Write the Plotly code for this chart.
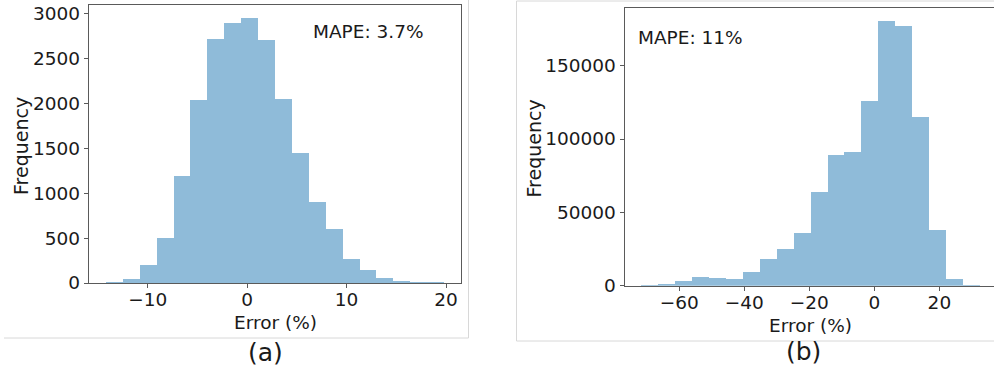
import plotly.graph_objects as go

# ---- Data ----
# Panel (a)
a_edges = [-14.2, -12.5, -10.8, -9.1, -7.4, -5.7, -4.0, -2.3, -0.6, 1.1, 2.8,
           4.5, 6.2, 7.9, 9.6, 11.3, 13.0, 14.7, 16.4, 18.1, 19.8]
a_counts = [8, 45, 197, 502, 1191, 2036, 2721, 2896, 2948, 2702, 2051,
            1452, 897, 596, 268, 145, 56, 22, 8, 3]
a_xticks = [-10, 0, 10, 20]
a_yticks = [0, 500, 1000, 1500, 2000, 2500, 3000]
a_label = "MAPE: 3.7%"

# Panel (b)
b_edges = [-71.8, -66.6, -61.4, -56.2, -50.9, -45.7, -40.5, -35.3, -30.1, -24.9,
           -19.7, -14.5, -9.3, -4.1, 1.1, 6.4, 11.6, 16.8, 22.0, 27.2, 32.4]
b_counts = [100, 700, 3200, 5900, 5500, 4550, 9300, 18200, 25000, 36200,
            64000, 89000, 91000, 125900, 180300, 177100, 114700, 37800, 4550, 50]
b_xticks = [-60, -40, -20, 0, 20]
b_yticks = [0, 50000, 100000, 150000]
b_label = "MAPE: 11%"

x_title = "Error (%)"
y_title = "Frequency"
captions = ["(a)", "(b)"]

W, H = 994, 370
BAR = "rgb(143,187,217)"
FONT = "DejaVu Sans"
TXT = "#1a1a1a"
SPINE = "#5a5a5a"


def centers(edges):
    return [(edges[i] + edges[i + 1]) / 2 for i in range(len(edges) - 1)]


def widths(edges):
    return [edges[i + 1] - edges[i] for i in range(len(edges) - 1)]


def px_x(p):
    return p / W


def px_y(p):
    return 1 - p / H


fig = go.Figure()
fig.add_trace(go.Bar(x=centers(a_edges), y=a_counts, width=widths(a_edges),
                     marker=dict(color=BAR, line=dict(width=0)),
                     xaxis="x", yaxis="y", showlegend=False))
fig.add_trace(go.Bar(x=centers(b_edges), y=b_counts, width=widths(b_edges),
                     marker=dict(color=BAR, line=dict(width=0)),
                     xaxis="x2", yaxis="y2", showlegend=False))

tickfont = dict(family=FONT, size=18.5, color=TXT)
common = dict(showgrid=False, zeroline=False, showline=True, linecolor=SPINE,
              linewidth=1.3, ticks="outside", ticklen=4, tickcolor=SPINE,
              tickwidth=1.2, tickfont=tickfont, fixedrange=True, automargin=False)

a_max = max(a_counts)
b_max = max(b_counts)

fig.update_layout(
    width=W, height=H,
    margin=dict(l=0, r=0, t=0, b=0),
    paper_bgcolor="white", plot_bgcolor="white",
    bargap=0,
    xaxis=dict(domain=[px_x(89), px_x(461)], range=[-15.9, 21.5],
               tickvals=a_xticks, ticktext=[str(v).replace("-", "\u2212") for v in a_xticks],
               mirror=True, anchor="y", ticklabelstandoff=-4, **common),
    yaxis=dict(domain=[px_y(283), px_y(5)], range=[0, a_max * 1.05],
               tickvals=a_yticks, ticktext=[str(v) for v in a_yticks],
               mirror=True, anchor="x", **common),
    xaxis2=dict(domain=[px_x(624.7), 1.0], range=[-76.8, 36.8],
                tickvals=b_xticks, ticktext=[str(v).replace("-", "\u2212") for v in b_xticks],
                mirror=True, anchor="y2", ticklabelstandoff=-4, **common),
    yaxis2=dict(domain=[px_y(285.7), px_y(8)], range=[0, b_max * 1.05],
                tickvals=b_yticks, ticktext=[str(v) for v in b_yticks],
                mirror=False, anchor="x2", **common),
)

ann = []
# MAPE labels
ann.append(dict(text=a_label, x=px_x(311), y=px_y(31), xref="paper", yref="paper",
                xanchor="left", yanchor="middle", showarrow=False,
                font=dict(family=FONT, size=18.5, color=TXT)))
ann.append(dict(text=b_label, x=px_x(635.5), y=px_y(37.5), xref="paper", yref="paper",
                xanchor="left", yanchor="middle", showarrow=False,
                font=dict(family=FONT, size=18.5, color=TXT)))
# axis titles
for xc, yc in [(275, 322), (810, 325)]:
    ann.append(dict(text=x_title, x=px_x(xc), y=px_y(yc), xref="paper", yref="paper",
                    xanchor="center", yanchor="middle", showarrow=False,
                    font=dict(family=FONT, size=18.5, color=TXT)))
for xc, yc in [(21, 146), (533.5, 149)]:
    ann.append(dict(text=y_title, x=px_x(xc), y=px_y(yc), xref="paper", yref="paper",
                    xanchor="center", yanchor="middle", showarrow=False, textangle=-90,
                    font=dict(family=FONT, size=19, color=TXT)))
# captions
for cap, xc, yc in [(captions[0], 265, 352), (captions[1], 803, 351)]:
    ann.append(dict(text=cap, x=px_x(xc), y=px_y(yc), xref="paper", yref="paper",
                    xanchor="center", yanchor="middle", showarrow=False,
                    font=dict(family=FONT, size=25, color=TXT)))
fig.update_layout(annotations=ann)

# faint borders of the two sub-images
BORDER = "#d8d8d8"
shapes = [
    dict(type="line", xref="paper", yref="paper", x0=px_x(468.5), x1=px_x(468.5),
         y0=px_y(0), y1=px_y(338), line=dict(color=BORDER, width=1)),
    dict(type="line", xref="paper", yref="paper", x0=px_x(4), x1=px_x(468.5),
         y0=px_y(338), y1=px_y(338), line=dict(color=BORDER, width=1)),
    dict(type="line", xref="paper", yref="paper", x0=px_x(516.5), x1=px_x(516.5),
         y0=px_y(1), y1=px_y(341), line=dict(color=BORDER, width=1)),
    dict(type="line", xref="paper", yref="paper", x0=px_x(516.5), x1=1.0,
         y0=px_y(341), y1=px_y(341), line=dict(color=BORDER, width=1)),
    dict(type="line", xref="paper", yref="paper", x0=px_x(516.5), x1=1.0,
         y0=px_y(1), y1=px_y(1), line=dict(color=BORDER, width=1)),
]
fig.update_layout(shapes=shapes)

fig.write_html("out.html")
